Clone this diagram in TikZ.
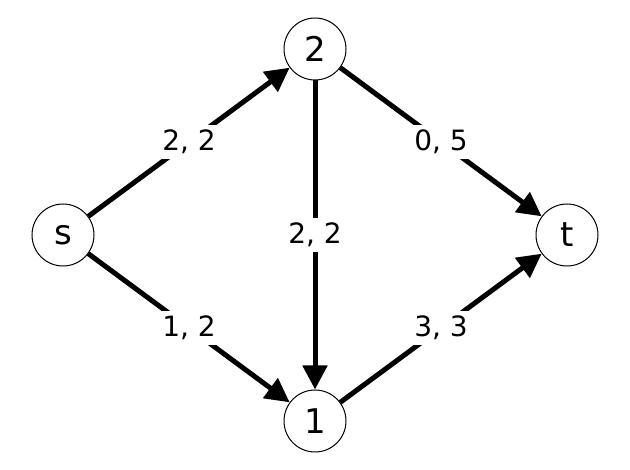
\documentclass[tikz,border=0pt]{standalone}
\usepackage{fontspec}
\setmainfont{DejaVu Sans}
\usetikzlibrary{arrows.meta}
\tikzset{
    vertex/.style={draw,circle,line width=1pt,minimum size=62pt,inner sep=0pt,font=\fontsize{34}{34}\selectfont},
    flow/.style={line width=5pt,-{Triangle[length=24pt,width=24pt]}},
    flowlabel/.style={fill=white,inner sep=5pt,font=\fontsize{28}{28}\selectfont}
}
\begin{document}
\begin{tikzpicture}[x=1pt,y=-1pt]
        \useasboundingbox (0,0) rectangle (630,470);
        %% Vertices
        \node[vertex] (s) at (63,235) {s};
        \node[vertex] (v2) at (315,49) {2};
        \node[vertex] (v1) at (315,421) {1};
        \node[vertex] (t) at (567,235) {t};
        %% Edges with flow, capacity
        \foreach \a/\b/\c in {s/v2/{2, 2}, s/v1/{1, 2}, v2/t/{0, 5}, v2/v1/{2, 2}, v1/t/{3, 3}} {
            \draw[flow] (\a) -- (\b) node[flowlabel,midway] {\c};
        }
\end{tikzpicture}
\end{document}
